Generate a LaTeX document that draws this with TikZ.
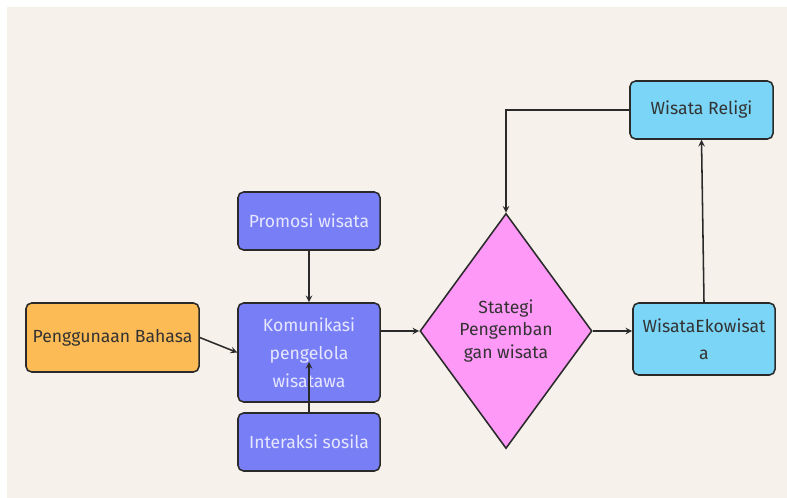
\documentclass[tikz,border=0pt]{standalone}
\usepackage{fontspec}
\setmainfont{Fira Sans}
\usepackage{tikz}
\usetikzlibrary{shapes.geometric,arrows}

\definecolor{cream}{HTML}{F6F1EA}
\definecolor{edge}{HTML}{2A2A2A}
\definecolor{orangebox}{HTML}{FDBB55}
\definecolor{purplebox}{HTML}{787FF6}
\definecolor{pinkbox}{HTML}{FF99F8}
\definecolor{cyanbox}{HTML}{7AD5F6}
\definecolor{lighttext}{HTML}{E6E7FF}
\definecolor{darktext}{HTML}{333333}

\begin{document}
\begin{tikzpicture}[x=0.025cm,y=-0.025cm,>=stealth]
	\tikzset{box/.style={draw=edge,line width=1.1pt,rounded corners=4pt,align=center,inner sep=2pt,font=\fontsize{12.5}{20}\selectfont},
		pbox/.style={box,fill=purplebox,text=lighttext,minimum width=3.55cm},
		cbox/.style={box,fill=cyanbox,text=darktext},
		link/.style={draw=edge,line width=1.1pt}}
	\useasboundingbox (0,0) rectangle (787,498);
	\fill[cream] (7,7) rectangle (787,498);
	\node[box,fill=orangebox,text=darktext,minimum width=4.325cm,minimum height=1.725cm] (bahasa) at (112.5,337.5) {Penggunaan Bahasa};
	\node[pbox,minimum height=1.45cm] (promosi) at (309,221) {Promosi wisata};
	\node[pbox,minimum height=2.475cm] (kom) at (309,352.5) {Komunikasi\\pengelola\\wisatawa};
	\node[pbox,minimum height=1.45cm] (interaksi) at (309,442) {Interaksi sosila};
	\node[draw=edge,line width=1.1pt,fill=pinkbox,text=darktext,diamond,inner sep=0pt,minimum width=4.3cm,minimum height=5.875cm,align=center,font=\fontsize{12.5}{16}\selectfont] (strategi) at (506,331) {Stategi\\Pengemban\\gan wisata};
	\node[cbox,minimum width=3.55cm,minimum height=1.8cm,font=\fontsize{12.5}{19}\selectfont] (eko) at (704,339) {WisataEkowisat\\a};
	\node[cbox,minimum width=3.575cm,minimum height=1.45cm] (religi) at (701.5,110) {Wisata Religi};
	\coordinate (kommid) at (309,362);
	\path[->]
		(bahasa.east) edge[link] (kom.west)
		(promosi) edge[link] (kom)
		(interaksi.north) edge[link] (kommid)
		(kom.east |- strategi.west) edge[link] (strategi.west)
		(strategi.east) edge[link] (strategi.east -| eko.west)
		(eko.north) edge[link] (religi.south);
	\draw[link,->] (religi.west) -| (strategi.north);
\end{tikzpicture}
\end{document}
